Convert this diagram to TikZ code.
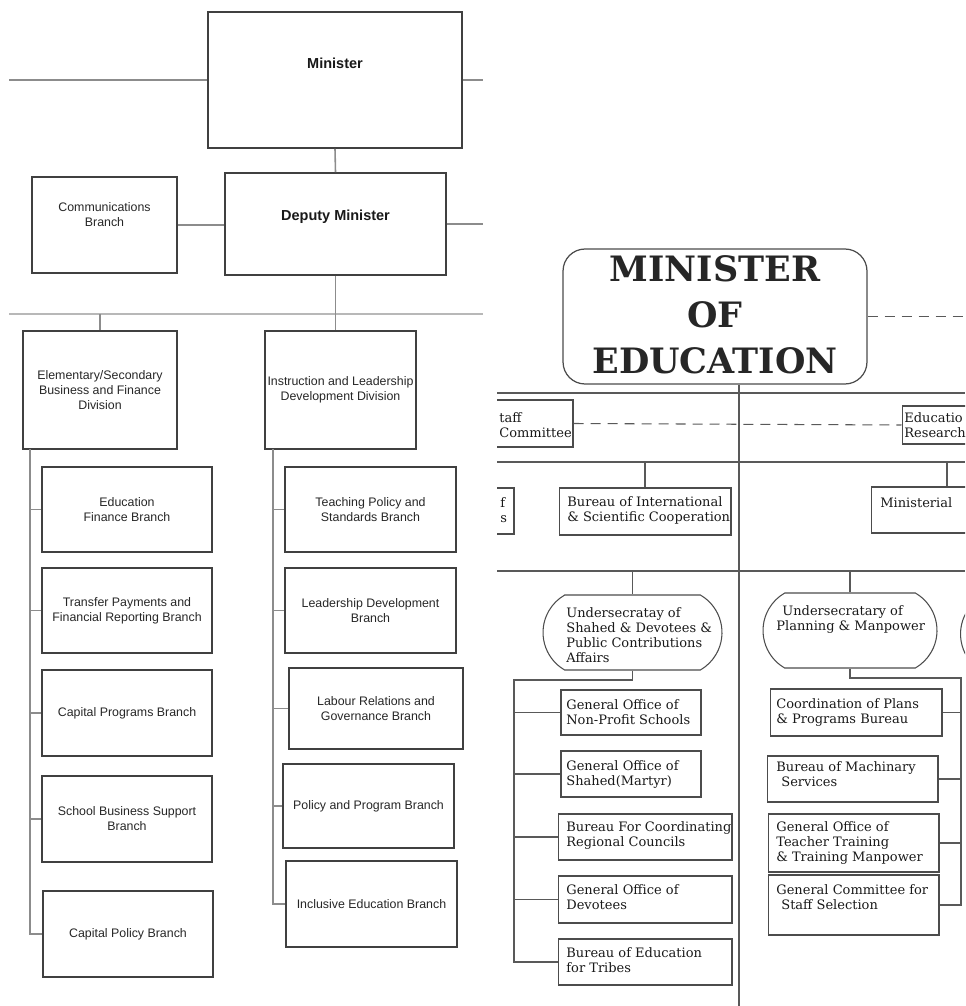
\documentclass[tikz,border=0pt]{standalone}
\usepackage{fontspec}
\setmainfont{Liberation Sans}
\newfontfamily\rserif{DejaVu Serif}
\usetikzlibrary{shapes.misc, positioning}

\begin{document}
\begin{tikzpicture}[x=0.02cm, y=-0.02cm]
    \tikzstyle{lbox} = [rectangle, draw=black!75, line width=1.1pt, inner sep=0pt, align=center, text=black!85, font=\fontsize{7.05}{8.5}\selectfont]
    \tikzstyle{ltxt} = [inner sep=0pt, align=center, text=black!85, font=\fontsize{7.05}{8.5}\selectfont]
    \tikzstyle{lhead} = [inner sep=0pt, text=black!90, font=\bfseries\fontsize{8.25}{10}\selectfont]
    \tikzstyle{lline} = [draw=black!45, line width=0.9pt]
    \tikzstyle{bus} = [draw=black!28, line width=1.7pt]
    \tikzstyle{rbox} = [rectangle, draw=black!70, line width=0.6pt, inner sep=0pt]
    \tikzstyle{usec} = [rounded rectangle, rounded rectangle arc length=120, draw=black!70, line width=0.6pt, inner sep=0pt, minimum width=3.58cm, minimum height=1.5cm]
    \tikzstyle{rtxt} = [inner sep=0pt, align=left, anchor=west, text=black!90, font=\rserif\fontsize{7.4}{8.5}\selectfont]
    \tikzstyle{rline} = [draw=black!65, line width=0.6pt]
    \tikzstyle{rdash} = [rline, dash pattern=on 0.2cm off 0.14cm]

    \useasboundingbox (0,0) rectangle (965,1006);

    \node (minister) [lbox, minimum width=5.08cm, minimum height=2.72cm] at (335,80) {};
    \node (ministertxt) [lhead] at (335,63) {Minister};
    \node (deputy) [lbox, minimum width=4.42cm, minimum height=2.04cm] at (335.5,224) {};
    \node (deputytxt) [lhead] at (335.5,217) {Deputy Minister};
    \node (comm) [lbox, minimum width=2.9cm, minimum height=1.92cm] at (104.5,225) {};
    \node (commtxt) [ltxt] at (104.5,215) {Communications\\Branch};
    \node (esdiv) [lbox, minimum width=3.08cm, minimum height=2.36cm] at (100,390) {Elementary/Secondary\\Business and Finance\\Division};
    \node (ildiv) [lbox, minimum width=3.02cm, minimum height=2.36cm] at (340.5,390) {Instruction and Leadership\\Development Division};

    \node (edfin) [lbox, minimum width=3.4cm, minimum height=1.7cm] at (127,509.5) {Education\\Finance Branch};
    \node (transfer) [lbox, minimum width=3.4cm, minimum height=1.7cm] at (127,610.5) {Transfer Payments and\\Financial Reporting Branch};
    \node (capprog) [lbox, minimum width=3.4cm, minimum height=1.72cm] at (127,713) {Capital Programs Branch};
    \node (schoolbiz) [lbox, minimum width=3.4cm, minimum height=1.72cm] at (127,819) {School Business Support\\Branch};
    \node (cappol) [lbox, minimum width=3.4cm, minimum height=1.72cm] at (128,934) {Capital Policy Branch};
    \node (teaching) [lbox, minimum width=3.42cm, minimum height=1.7cm] at (370.5,509.5) {Teaching Policy and\\Standards Branch};
    \node (leadership) [lbox, minimum width=3.42cm, minimum height=1.7cm] at (370.5,610.5) {Leadership Development\\Branch};
    \node (labour) [lbox, minimum width=3.48cm, minimum height=1.62cm] at (376,708.5) {Labour Relations and\\Governance Branch};
    \node (polprog) [lbox, minimum width=3.42cm, minimum height=1.68cm] at (368.5,806) {Policy and Program Branch};
    \node (inclusive) [lbox, minimum width=3.42cm, minimum height=1.72cm] at (371.5,904) {Inclusive Education Branch};

    \coordinate (lend) at (9,0);
    \coordinate (rend) at (483,0);
    \coordinate (bus) at (0,314);
    \coordinate (lspine) at (30,449);
    \coordinate (rspine) at (273,449);

    \draw [lline] (lend |- minister) -- (minister.west);
    \draw [lline] (minister.east) -- (rend |- minister);
    \draw [lline] (minister.south) -- (deputy.north);
    \draw [lline] (comm.east) -- (comm.east -| deputy.west);
    \draw [lline] (deputy.east) -- (rend |- deputy);
    \draw [bus] (lend |- bus) -- (rend |- bus);
    \draw [lline] (deputy.south) -- (deputy.south |- ildiv.north);
    \draw [lline] (esdiv.north) -- (esdiv.north |- bus);
    \draw [lline] (lspine) |- (cappol.west);
    \foreach \b in {edfin, transfer, capprog, schoolbiz}
        \draw [lline] (lspine |- \b) -- (\b.west);
    \draw [lline] (rspine) |- (inclusive.west);
    \foreach \b in {teaching, leadership, labour, polprog}
        \draw [lline] (rspine |- \b) -- (\b.west);

    \begin{scope}
        \clip (497,0) rectangle (965,1006);

        \node (moe) [rectangle, rounded corners=0.44cm, draw=black!70, line width=0.7pt, minimum width=6.08cm, minimum height=2.7cm] at (715,316.5) {};
        \node (moetxt) [align=center, inner sep=0pt, text=black!85, font=\rserif\bfseries\fontsize{19.9}{26.2}\selectfont] at (715,314.5) {MINISTER\\OF\\EDUCATION};

        \coordinate (redge) at (965,0);
        \coordinate (vx) at (739,0);
        \coordinate (vbot) at (739,1006);
        \coordinate (mx) at (947,0);
        \coordinate (bar1) at (497,393);
        \coordinate (bar2) at (497,462);
        \coordinate (bar3) at (497,571);

        \draw [rdash] (moe.east) -- (redge |- moe.east);
        \draw [rline] (moe.south -| vx) -- (vbot);
        \draw [rline] (bar1) -- (redge |- bar1);
        \draw [rline] (bar2) -- (redge |- bar2);
        \draw [rline] (bar3) -- (redge |- bar3);

        \node (staff) [rbox, minimum width=1.88cm, minimum height=0.94cm] at (526,423.5) {};
        \node (stafftxt) [rtxt] at (499,425) {taff\\Committee};
        \node (edres) [rbox, minimum width=2cm, minimum height=0.76cm] at (952,425) {};
        \node (edrestxt) [rtxt] at (904,425.5) {Educatio\\Research};
        \draw [rdash] (staff.east) -- (edres.west);

        \node (bofs) [rbox, minimum width=1.4cm, minimum height=0.92cm] at (479,511) {};
        \node (bofstxt) [rtxt] at (500,510) {f\\s};
        \node (intl) [rbox, minimum width=3.44cm, minimum height=0.94cm] at (645,511.5) {};
        \node (intltxt) [rtxt] at (567,510) {Bureau of International\\\& Scientific Cooperation};
        \node (minist) [rbox, minimum width=5.2cm, minimum height=0.92cm] at (1001,510) {};
        \node (ministtxt) [rtxt] at (880,503) {Ministerial};
        \draw [rline] (intl.north) -- (intl.north |- bar2);
        \draw [rline] (mx |- bar2) -- (mx |- minist.north);

        \node (usec1) [usec] at (632.5,632.5) {};
        \node (usec1txt) [rtxt] at (566,635) {Undersecratay of\\Shahed \& Devotees \&\\Public Contributions\\Affairs};
        \node (usec2) [usec, minimum width=3.48cm] at (850,630.5) {};
        \node (usec2txt) [rtxt] at (776,619.5) {\hspace*{0.12cm}Undersecratary of\\Planning \& Manpower};
        \node (usec3) [usec] at (1050,634) {};
        \draw [rline] (usec1.north) -- (usec1.north |- bar3);
        \draw [rline] (usec2.north) -- (usec2.north |- bar3);

        \coordinate (lgtop) at (514,680);
        \node (nonprofit) [rbox, minimum width=2.8cm, minimum height=0.9cm] at (631,712.5) {};
        \node (nonprofittxt) [rtxt] at (566,712.5) {General Office of\\Non-Profit Schools};
        \node (shahed) [rbox, minimum width=2.8cm, minimum height=0.92cm] at (631,774) {};
        \node (shahedtxt) [rtxt] at (566,774.5) {General Office of\\Shahed(Martyr)};
        \node (coordreg) [rbox, minimum width=3.48cm, minimum height=0.92cm] at (645,837) {};
        \node (coordregtxt) [rtxt] at (566,835.5) {Bureau For Coordinating\\Regional Councils};
        \node (devotees) [rbox, minimum width=3.48cm, minimum height=0.94cm] at (645,899.5) {};
        \node (devoteestxt) [rtxt] at (566,897.5) {General Office of\\Devotees};
        \node (tribes) [rbox, minimum width=3.48cm, minimum height=0.92cm] at (645,962) {};
        \node (tribestxt) [rtxt] at (566,960.5) {Bureau of Education\\for Tribes};
        \draw [rline] (usec1.south) |- (lgtop) |- (tribes.west);
        \foreach \b in {nonprofit, shahed, coordreg, devotees}
            \draw [rline] (lgtop |- \b) -- (\b.west);

        \coordinate (rgtop) at (961,678);
        \node (coordplans) [rbox, minimum width=3.44cm, minimum height=0.94cm] at (856,712.5) {};
        \node (coordplanstxt) [rtxt] at (776,712.5) {Coordination of Plans\\\& Programs Bureau};
        \node (machinary) [rbox, minimum width=3.42cm, minimum height=0.92cm] at (852.5,779) {};
        \node (machinarytxt) [rtxt] at (776,774.5) {Bureau of Machinary\\\hspace*{0.1cm}Services};
        \node (teacher) [rbox, minimum width=3.42cm, minimum height=1.16cm] at (853.5,843) {};
        \node (teachertxt) [rtxt] at (776,843) {General Office of\\Teacher Training\\\& Training Manpower};
        \node (staffsel) [rbox, minimum width=3.42cm, minimum height=1.2cm] at (853.5,905) {};
        \node (staffseltxt) [rtxt] at (776,897.5) {General Committee for\\\hspace*{0.1cm}Staff Selection};
        \draw [rline] (usec2.south) |- (rgtop) |- (staffsel.east);
        \foreach \b in {coordplans, machinary, teacher}
            \draw [rline] (rgtop |- \b) -- (\b.east);
    \end{scope}
\end{tikzpicture}
\end{document}
